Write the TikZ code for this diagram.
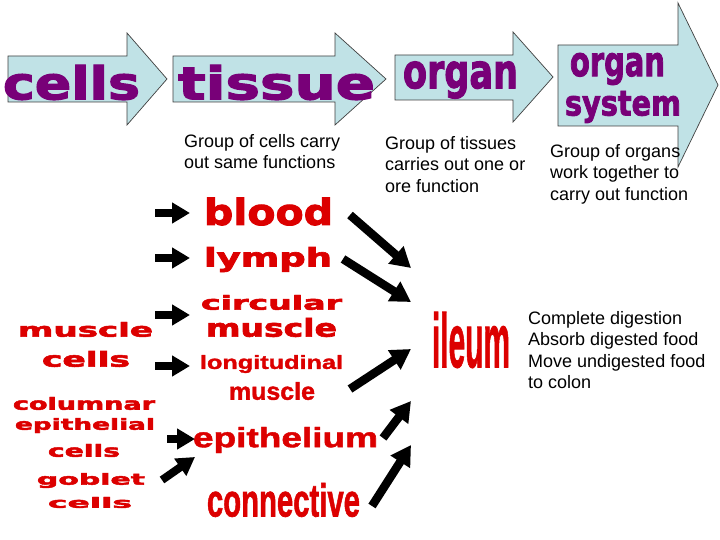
\documentclass[tikz,border=0pt]{standalone}
\usepackage{fontspec}
\usepackage{graphicx}
\setmainfont{Liberation Sans}
\newfontfamily\heavyfont{DejaVu Sans}[BoldFeatures={FakeBold=2.5}]
\newfontfamily\boldfont{Liberation Sans}[BoldFeatures={FakeBold=1.5}]
\usetikzlibrary{arrows.meta}
\definecolor{arrowfill}{RGB}{192,226,230}
\definecolor{wordpurple}{RGB}{120,0,120}
\definecolor{wordred}{RGB}{220,0,0}
\newcommand{\heavyword}[3]{\resizebox*{#1pt}{#2pt}{\heavyfont\bfseries #3}}
\newcommand{\boldword}[3]{\resizebox*{#1pt}{#2pt}{\boldfont\bfseries #3}}
\begin{document}
\begin{tikzpicture}[x=1pt,y=-1pt,
  word/.style={inner sep=0pt, anchor=center},
  purpleword/.style={word, text=wordpurple},
  redword/.style={word, text=wordred},
  desc/.style={inner sep=0pt, anchor=north west, align=left, font=\fontsize{18}{21.5}\selectfont},
  blockarrow/.style={fill=arrowfill, draw=black!75, line width=0.7pt, line join=miter},
  harrow/.style={line width=8pt, -{Triangle[length=18pt,width=20pt]}},
  darrow/.style={line width=8.5pt, -{Triangle[length=20pt,width=22pt]}}]
\useasboundingbox (0,0) rectangle (720,540);
\fill[white] (0,0) rectangle (720,540);

% block arrows of the top row
\draw[blockarrow] (8,56) -- (127,56) -- (127,33) -- (167,79) -- (127,125) -- (127,102) -- (8,102) -- cycle;
\draw[blockarrow] (173,56) -- (335,56) -- (335,33) -- (386,79) -- (335,125) -- (335,102) -- (173,102) -- cycle;
\draw[blockarrow] (395,55) -- (513,55) -- (513,32) -- (553,77) -- (513,122) -- (513,100) -- (395,100) -- cycle;
\draw[blockarrow] (558,45) -- (678,45) -- (678,3) -- (718,85) -- (678,167) -- (678,126) -- (558,126) -- cycle;

% purple titles
\node[purpleword] (tcells) at (71.5,82.5) {\heavyword{137}{35}{cells}};
\node[purpleword] (ttissue) at (276.5,82.5) {\heavyword{197}{35}{tissue}};
\node[purpleword] (torgan) at (460.5,80) {\heavyword{115}{37}{organ}};
\node[purpleword] (torgansys) at (617.5,69) {\heavyword{95}{32}{organ}};
\node[purpleword] (tsystem) at (623,107) {\heavyword{116}{32}{system}};

% descriptions
\node[desc] (dtissue) at (184,134) {Group of cells carry\\out same functions};
\node[desc] (dorgan) at (385,136) {Group of tissues\\carries out one or\\ore function};
\node[desc] (dsystem) at (550,144) {Group of organs\\work together to\\carry out function};
\node[desc] (dileum) at (528,311) {Complete digestion\\Absorb digested food\\Move undigested food\\to colon};

% red words: cells
\node[redword] (mcells1) at (85.5,329.5) {\heavyword{135}{15}{muscle}};
\node[redword] (mcells2) at (86,359) {\heavyword{88}{16}{cells}};
\node[redword] (ccells1) at (84,403.5) {\heavyword{142}{13}{columnar}};
\node[redword] (ccells2) at (85,425.5) {\heavyword{140}{15}{epithelial}};
\node[redword] (ccells3) at (84,450.5) {\heavyword{72}{13}{cells}};
\node[redword] (gcells1) at (91,480.5) {\heavyword{108}{15}{goblet}};
\node[redword] (gcells2) at (90,502.5) {\heavyword{84}{11}{cells}};

% red words: tissues
\node[redword] (blood) at (268.5,211.5) {\heavyword{129}{28}{blood}};
\node[redword] (lymph) at (268,259.5) {\heavyword{128}{25}{lymph}};
\node[redword] (circ1) at (271.5,302.5) {\heavyword{141}{15}{circular}};
\node[redword] (circ2) at (271.5,327.5) {\heavyword{131}{19}{muscle}};
\node[redword] (long1) at (271.5,364) {\boldword{143}{18}{longitudinal}};
\node[redword] (long2) at (272,391) {\boldword{86}{18}{muscle}};
\node[redword] (epith) at (285.5,440) {\boldword{185}{26}{epithelium}};
\node[redword] (connect) at (283.5,500) {\boldword{153}{34}{connective}};

% red word: organ
\node[redword] (ileum) at (471,340) {\boldword{78}{56}{ileum}};

% arrow end points
\coordinate (h1s) at (155,213); \coordinate (h1e) at (190,213);
\coordinate (h2s) at (155,258); \coordinate (h2e) at (190,258);
\coordinate (h3s) at (155,315); \coordinate (h3e) at (190,315);
\coordinate (h4s) at (155,366); \coordinate (h4e) at (190,366);
\coordinate (h5s) at (167,439); \coordinate (h5e) at (195,439);
\coordinate (gs) at (162,480); \coordinate (ge) at (195,457);
\coordinate (d1s) at (350,215); \coordinate (d1e) at (411,268);
\coordinate (d2s) at (343,259); \coordinate (d2e) at (411,302);
\coordinate (d3s) at (350,389); \coordinate (d3e) at (411,349);
\coordinate (d4s) at (383,438); \coordinate (d4e) at (411,401);
\coordinate (d5s) at (372,506); \coordinate (d5e) at (411,445);

\draw[harrow] (h1s) -- (h1e);
\draw[harrow] (h2s) -- (h2e);
\draw[harrow] (h3s) -- (h3e);
\draw[harrow] (h4s) -- (h4e);
\draw[harrow] (h5s) -- (h5e);
\draw[harrow] (gs) -- (ge);
\draw[darrow] (d1s) -- (d1e);
\draw[darrow] (d2s) -- (d2e);
\draw[darrow] (d3s) -- (d3e);
\draw[darrow] (d4s) -- (d4e);
\draw[darrow] (d5s) -- (d5e);
\end{tikzpicture}
\end{document}
